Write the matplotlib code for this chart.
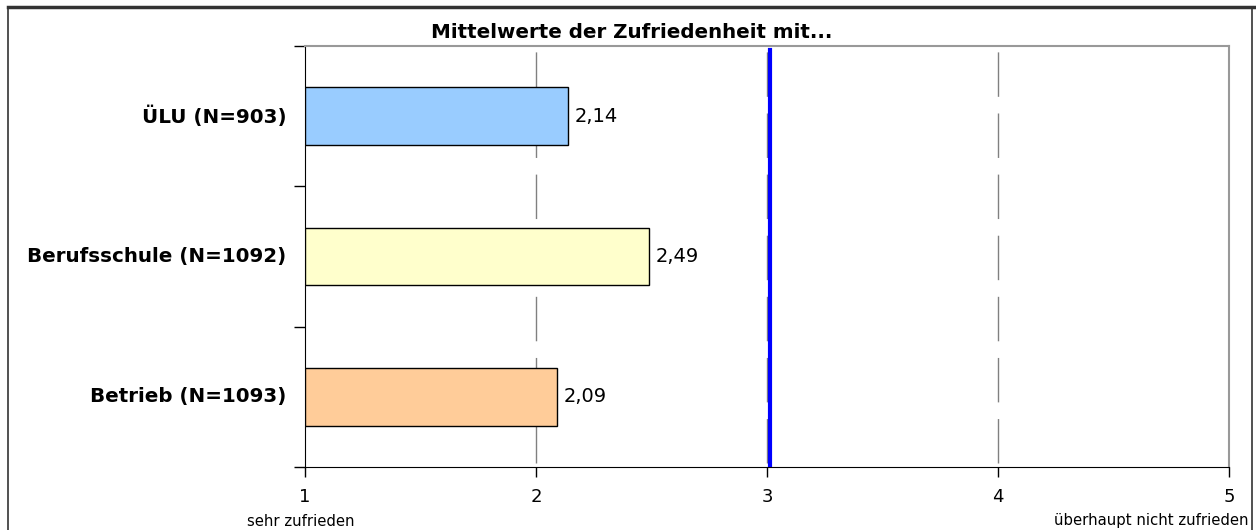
import matplotlib
matplotlib.use("Agg")
import matplotlib.pyplot as plt
from matplotlib.patches import Rectangle
from matplotlib.lines import Line2D

plt.rcParams['font.family'] = ['DejaVu Sans']

categories = ["ÜLU (N=903)", "Berufsschule (N=1092)", "Betrieb (N=1093)"]
values = [2.14, 2.49, 2.09]
value_labels = ["2,14", "2,49", "2,09"]
colors = ["#99CCFF", "#FFFFCC", "#FFCC99"]
reference_value = 3.012
x_ticks = [1, 2, 3, 4, 5]
title = "Mittelwerte der Zufriedenheit mit..."
left_note = "sehr zufrieden"
right_note = "überhaupt nicht zufrieden"

W, H = 1256, 530
fig = plt.figure(figsize=(W / 100, H / 100), dpi=100)

# outer frame
fig.add_artist(Rectangle((8 / W, -0.05), (1252 - 8) / W, 1.05 - 7 / H,
                         transform=fig.transFigure, fill=False,
                         edgecolor="#333333", linewidth=1.2))
fig.add_artist(Line2D([8 / W, 1.0], [1 - 7 / H, 1 - 7 / H],
                      transform=fig.transFigure, color="#333333", linewidth=2.5))

ax = fig.add_axes([305 / W, 1 - 467 / H, (1229 - 305) / W, (467 - 46) / H])

ypos = list(range(len(categories)))
ax.barh(ypos, [v - 1 for v in values], left=1, height=0.41, color=colors,
        edgecolor="black", linewidth=1.0, zorder=3)

for y, v, lab in zip(ypos, values, value_labels):
    ax.text(v + 0.028, y, lab, va="center", ha="left", fontsize=14, zorder=5)

ax.set_xlim(1, 5)
ax.set_ylim(len(categories) - 0.5, -0.5)

for xv in x_ticks[1:-1]:
    ax.plot([xv, xv], [len(categories) - 0.5 - 0.03, -0.5], color="#808080",
            linewidth=1.0, dashes=(32, 12), zorder=1)

ax.axvline(reference_value, ymin=0, ymax=0.99, color="#0000FF", linewidth=3, zorder=4)

ax.set_xticks(x_ticks)
ax.set_xticklabels([str(t) for t in x_ticks], fontsize=13)
ax.tick_params(axis="x", direction="out", length=7, width=1, pad=8)

ax.set_yticks([i - 0.5 for i in range(len(categories) + 1)])
ax.set_yticklabels([])
ax.tick_params(axis="y", direction="out", length=8, width=1)
for y, c in zip(ypos, categories):
    ax.text(-0.02, y, c, transform=ax.get_yaxis_transform(), ha="right",
            va="center", fontsize=14.3, fontweight="bold")

ax.spines["left"].set_color("black")
ax.spines["bottom"].set_color("black")
ax.spines["top"].set_color("#999999")
ax.spines["right"].set_color("#999999")
ax.spines["top"].set_linewidth(1.5)
ax.spines["right"].set_linewidth(1.5)

fig.text(632 / W, 1 - 32 / H, title, ha="center", va="center",
         fontsize=14.3, fontweight="bold")
fig.text(247 / W, 1 - 521 / H, left_note, ha="left", va="center", fontsize=10.7)
fig.text(1248 / W, 1 - 521 / H, right_note, ha="right", va="center", fontsize=10.7)

fig.savefig("out.png", dpi=100)
